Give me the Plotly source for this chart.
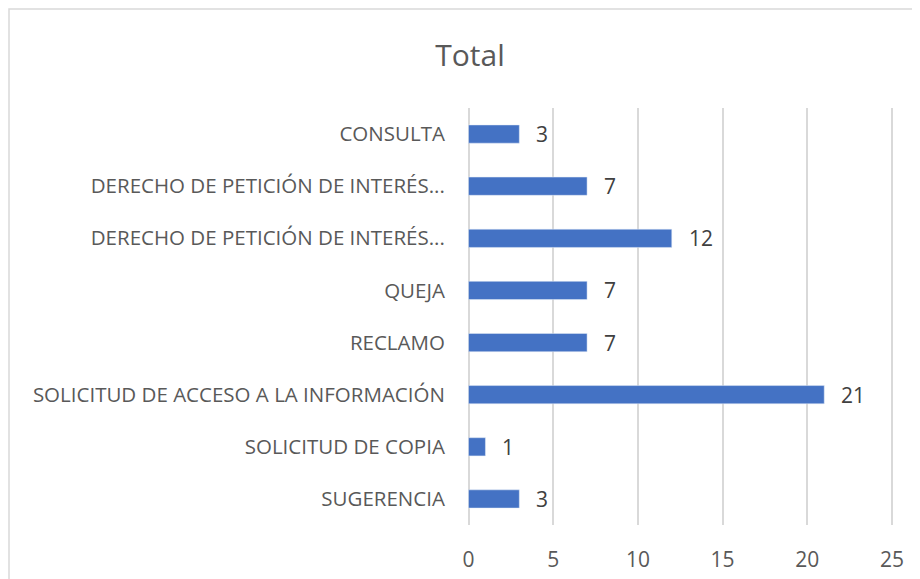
import plotly.graph_objects as go

categories = [
    "CONSULTA",
    "DERECHO DE PETICIÓN DE INTERÉS...",
    "DERECHO DE PETICIÓN DE INTERÉS...",
    "QUEJA",
    "RECLAMO",
    "SOLICITUD DE ACCESO A LA INFORMACIÓN",
    "SOLICITUD DE COPIA",
    "SUGERENCIA",
]
values = [3, 7, 12, 7, 7, 21, 1, 3]
x_ticks = [0, 5, 10, 15, 20, 25]

pos = list(range(len(categories)))
FONT = "Open Sans"
OFF = 8  # page body margin
W, H = 920 - OFF, 579 - OFF
X0, X25 = 468.5, 892  # screen px of 0 and 25
PAD = 4
L = int(X0 - PAD - OFF)
R = int(W - (X25 + PAD - OFF))
T = 108 - OFF
B = H - (525 - OFF)
pw, ph = W - L - R, H - T - B
ppu = (X25 - X0) / 25.0
lo = -((X0 - OFF) - L) / ppu
hi = 25 + ((W - R) - (X25 - OFF)) / ppu

fig = go.Figure()
fig.add_trace(go.Bar(
    x=values, y=pos, orientation="h",
    marker=dict(color="#4472C4"),
    width=0.35,
    hoverinfo="x+y",
))
for v, p in zip(values, pos):
    fig.add_annotation(x=v, y=p, text=str(v), showarrow=False,
                       xanchor="left", xshift=15,
                       font=dict(family=FONT, size=21, color="#404040"))

# chart border (partially outside image)
fig.add_shape(type="rect", xref="paper", yref="paper",
              x0=(1 - L) / pw, x1=(W + 10 - L) / pw,
              y0=(-20 - B) / ph, y1=(H - B - 1) / ph,
              line=dict(color="#D9D9D9", width=1.5), fillcolor="rgba(0,0,0,0)",
              layer="below")

fig.update_layout(
    width=W, height=H,
    margin=dict(l=L, r=R, t=T, b=B, autoexpand=False),
    paper_bgcolor="white", plot_bgcolor="white",
    showlegend=False,
    title=dict(text="Total", x=(470 - OFF) / W, xref="container", xanchor="center",
               y=1 - (55 - OFF) / H, yref="container", yanchor="middle",
               font=dict(family=FONT, size=30, color="#595959")),
    xaxis=dict(range=[lo, hi], tickvals=x_ticks, showgrid=True,
               gridcolor="#D9D9D9", gridwidth=1.5, zeroline=False,
               ticks="outside", ticklen=16, tickcolor="rgba(0,0,0,0)",
               tickfont=dict(family=FONT, size=21, color="#595959"),
               showline=False, fixedrange=True),
    yaxis=dict(tickvals=pos, ticktext=categories, range=[7.5, -0.5],
               showgrid=False, zeroline=False, showline=False,
               ticks="outside", ticklen=18 - PAD, tickcolor="rgba(0,0,0,0)",
               tickfont=dict(family=FONT, size=20.5, color="#595959")),
)
fig.write_html("out.html")
